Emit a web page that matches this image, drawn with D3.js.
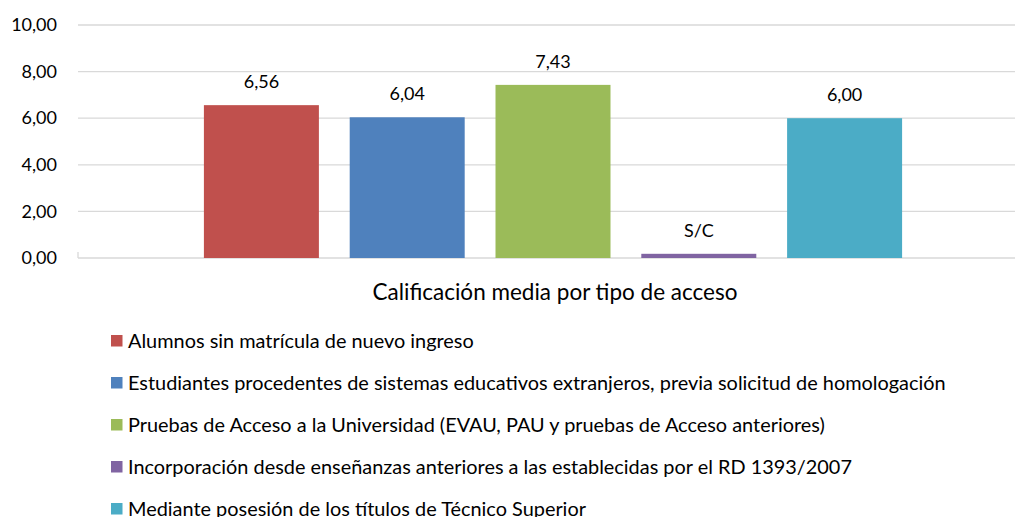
<!DOCTYPE html>
<html><head><meta charset="utf-8">
<script src="https://cdn.jsdelivr.net/npm/d3@7"></script>
<style>body{margin:0;background:#fff;} svg{display:block;font-family:Lato,"Open Sans",sans-serif;}</style>
</head><body>
<svg id="c" width="1017" height="517"></svg>
<script>
const series = [
  "Alumnos sin matrícula de nuevo ingreso",
  "Estudiantes procedentes de sistemas educativos extranjeros, previa solicitud de homologación",
  "Pruebas de Acceso a la Universidad (EVAU, PAU y pruebas de Acceso anteriores)",
  "Incorporación desde enseñanzas anteriores a las establecidas por el RD 1393/2007",
  "Mediante posesión de los títulos de Técnico Superior"
];
const values = [6.56, 6.04, 7.43, 0.18, 6.00];
const valueLabels = ["6,56", "6,04", "7,43", "S/C", "6,00"];
const colors = ["#C0504D", "#4F81BD", "#9BBB59", "#8064A2", "#4BACC6"];
const yTicks = [0, 2, 4, 6, 8, 10];
const categoryTitle = "Calificación media por tipo de acceso";

(function () {
const svg = d3.select("#c");
const pl = 78, pr = 1015, pt = 25, pb = 258;
const y = d3.scaleLinear().domain([0, 10]).range([pb, pt]);
const x = d3.scaleBand().domain(series).range([188.5, 917.5]).paddingInner(0.2113).paddingOuter(0.10565);

svg.append("g").selectAll("line").data(yTicks).join("line")
  .attr("x1", pl).attr("x2", pr)
  .attr("y1", d => y(d)).attr("y2", d => y(d))
  .attr("stroke", "#D9D9D9").attr("stroke-width", 1.3);

const fmt = d => d3.format(".2f")(d).replace(".", ",");
const yAxis = d3.axisLeft(y).tickValues(yTicks).tickFormat(fmt).tickSize(0).tickPadding(0);
const ga = svg.append("g").attr("transform", "translate(57,0)").call(yAxis);
ga.select(".domain").remove();
ga.selectAll("text").attr("font-size", 18).attr("fill", "#000").attr("font-family", "Lato,'Open Sans',sans-serif");

svg.append("line").attr("x1", pl).attr("x2", pl).attr("y1", pb - 6).attr("y2", pb)
  .attr("stroke", "#D9D9D9").attr("stroke-width", 1.3);

svg.append("g").selectAll("rect").data(series).join("rect")
  .attr("x", d => x(d)).attr("width", x.bandwidth())
  .attr("y", (d, i) => y(values[i])).attr("height", (d, i) => y(0) - y(values[i]))
  .attr("fill", (d, i) => colors[i]);

svg.append("g").selectAll("text").data(series).join("text")
  .attr("x", d => x(d) + x.bandwidth() / 2)
  .attr("y", (d, i) => y(values[i]) - 17)
  .attr("text-anchor", "middle").attr("font-size", 18).attr("fill", "#000")
  .text((d, i) => valueLabels[i]);

svg.append("text").attr("x", 555).attr("y", 300).attr("text-anchor", "middle")
  .attr("font-size", 22.5).attr("fill", "#000").text(categoryTitle);

const lg = svg.append("g").selectAll("g").data(series).join("g")
  .attr("transform", (d, i) => `translate(111,${341 + i * 42})`);
lg.append("rect").attr("x", 0).attr("y", -6).attr("width", 11.5).attr("height", 11.5)
  .attr("fill", (d, i) => colors[i]);
lg.append("text").attr("x", 17).attr("y", 6.5).attr("font-size", 19.9).attr("fill", "#000").text(d => d);
})();
</script>
</body></html>
